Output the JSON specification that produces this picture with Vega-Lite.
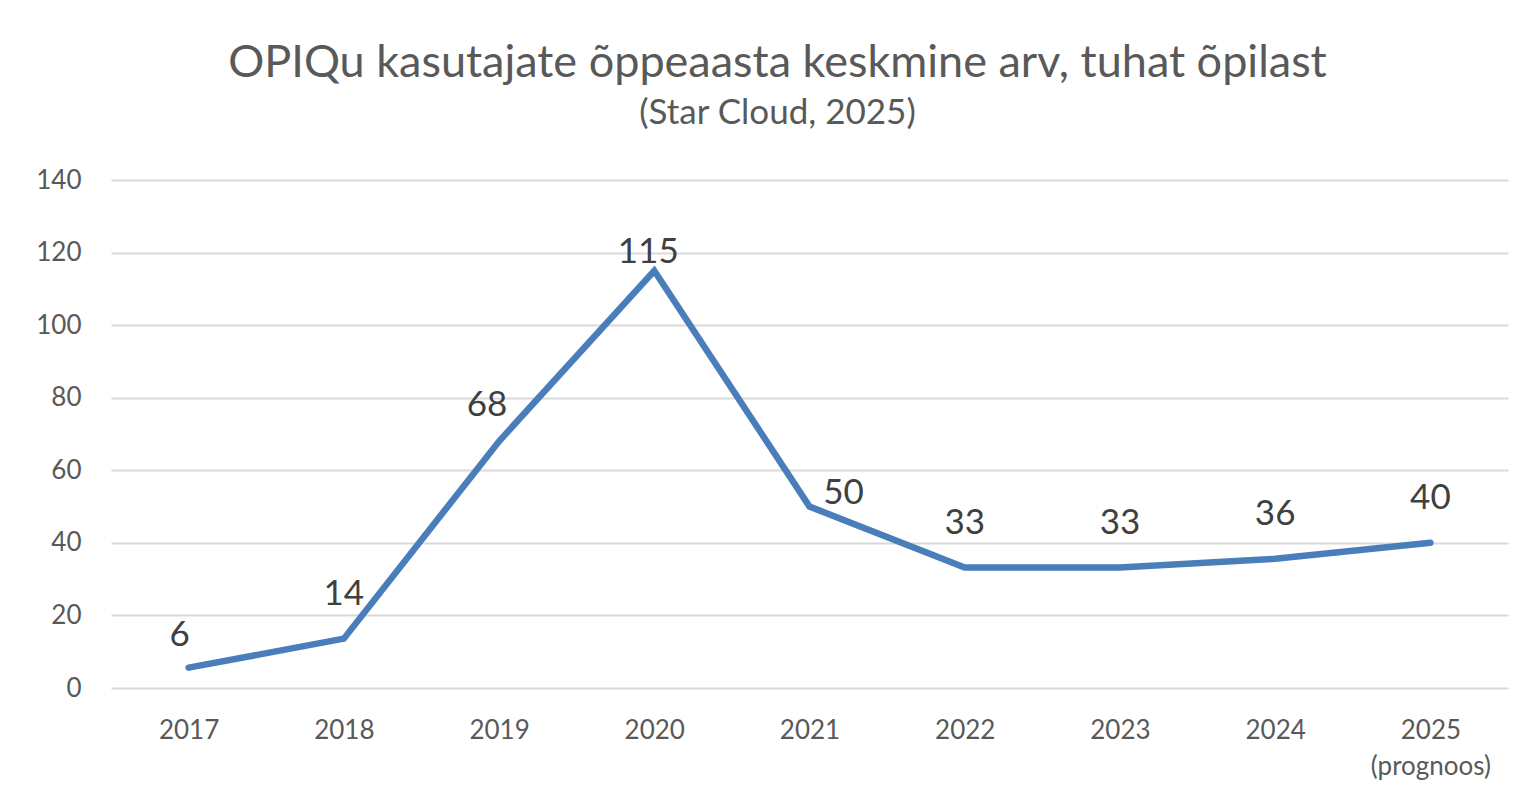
{
  "$schema": "https://vega.github.io/schema/vega-lite/v6.json",
  "width": 1397,
  "height": 508,
  "padding": {"left": 35, "top": 41, "right": 28, "bottom": 10},
  "background": "white",
  "config": {
    "font": "Lato",
    "view": {"stroke": null}
  },
  "title": {
    "text": "OPIQu kasutajate õppeaasta keskmine arv, tuhat õpilast",
    "subtitle": "(Star Cloud, 2025)",
    "anchor": "middle",
    "frame": "group",
    "dx": -32,
    "font": "Lato",
    "fontSize": 45,
    "fontWeight": "normal",
    "color": "#595959",
    "subtitleFont": "Lato",
    "subtitleFontSize": 35,
    "subtitleColor": "#595959",
    "subtitlePadding": 10,
    "offset": 36
  },
  "data": {
    "values": [
      {"year": "2017", "value": 5.6},
      {"year": "2018", "value": 13.6},
      {"year": "2019", "value": 68},
      {"year": "2020", "value": 115},
      {"year": "2021", "value": 50},
      {"year": "2022", "value": 33.2},
      {"year": "2023", "value": 33.2},
      {"year": "2024", "value": 35.6},
      {"year": "2025", "value": 40}
    ]
  },
  "encoding": {
    "x": {
      "field": "year",
      "type": "ordinal",
      "scale": {"type": "point", "padding": 0.5},
      "axis": {
        "title": null,
        "labelAngle": 0,
        "labelFontSize": 26,
        "labelColor": "#595959",
        "labelPadding": 29,
        "ticks": false,
        "domain": false,
        "grid": false,
        "labelExpr": "datum.value == '2025' ? ['2025', '(prognoos)'] : datum.value",
        "labelLineHeight": 36
      }
    },
    "y": {
      "field": "value",
      "type": "quantitative",
      "scale": {"domain": [0, 140]},
      "axis": {
        "title": null,
        "values": [0, 20, 40, 60, 80, 100, 120, 140],
        "labelFontSize": 26,
        "labelColor": "#595959",
        "labelPadding": 30,
        "ticks": false,
        "domain": false,
        "grid": true,
        "gridColor": "#d9d9d9",
        "gridWidth": 2
      }
    }
  },
  "layer": [
    {
      "mark": {"type": "line", "color": "#4a7ebb", "strokeWidth": 6.5, "strokeCap": "round", "strokeJoin": "miter"}
    },
    {
      "transform": [{"filter": "indexof(['2018','2022','2023','2024','2025'], datum.year) >= 0"}],
      "mark": {"type": "text", "fontSize": 35, "color": "#404040", "baseline": "middle", "dy": -45},
      "encoding": {"text": {"field": "value", "type": "quantitative", "format": ".0f"}}
    },
    {
      "transform": [{"filter": "datum.year == '2017'"}],
      "mark": {"type": "text", "fontSize": 35, "color": "#404040", "baseline": "middle", "dy": -33, "dx": -9},
      "encoding": {"text": {"field": "value", "type": "quantitative", "format": ".0f"}}
    },
    {
      "transform": [{"filter": "datum.year == '2019'"}],
      "mark": {"type": "text", "fontSize": 35, "color": "#404040", "baseline": "middle", "dy": -36, "dx": -12},
      "encoding": {"text": {"field": "value", "type": "quantitative", "format": ".0f"}}
    },
    {
      "transform": [{"filter": "datum.year == '2020'"}],
      "mark": {"type": "text", "fontSize": 35, "color": "#404040", "baseline": "middle", "dy": -19, "dx": -6},
      "encoding": {"text": {"field": "value", "type": "quantitative", "format": ".0f"}}
    },
    {
      "transform": [{"filter": "datum.year == '2021'"}],
      "mark": {"type": "text", "fontSize": 35, "color": "#404040", "baseline": "middle", "dy": -14, "dx": 34},
      "encoding": {"text": {"field": "value", "type": "quantitative", "format": ".0f"}}
    }
  ]
}
